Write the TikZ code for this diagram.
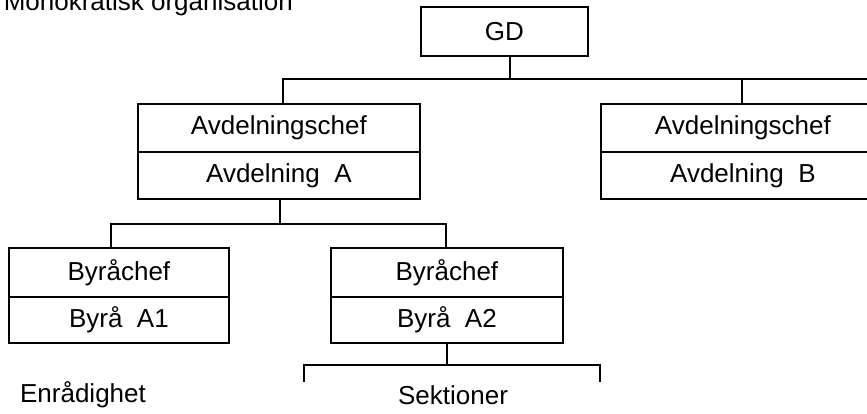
\documentclass[tikz,border=0pt]{standalone}
\usepackage{fontspec}
\setmainfont{Liberation Sans}
\begin{document}
\begin{tikzpicture}[x=1pt,y=-1pt,
  every node/.style={font=\fontsize{26}{31}\selectfont},
  cell/.style={draw, line width=1.8pt, inner sep=0pt, anchor=north west},
  wire/.style={line width=1.8pt},
  lbl/.style={inner sep=0pt}]
\useasboundingbox (0,0) rectangle (867,413);
\clip (0,0) rectangle (867,413);

% heading, cut by the top edge
\node[lbl, anchor=base east] (title) at (293,10) {Monokratisk organisation};

% GD
\node[cell, minimum width=167pt, minimum height=49pt] (gd) at (420,6) {GD};

% department A
\node[cell, minimum width=282pt, minimum height=48pt] (chefA) at (137,103) {Avdelningschef};
\node[cell, minimum width=282pt, minimum height=47pt] (avdA) at (137,151) {Avdelning\ \ A};

% department B
\node[cell, minimum width=284pt, minimum height=48pt] (chefB) at (600,103) {Avdelningschef};
\node[cell, minimum width=284pt, minimum height=47pt] (avdB) at (600,151) {Avdelning\ \ B};

% bureau A1
\node[cell, minimum width=220pt, minimum height=49pt] (chefA1) at (8,247) {Byråchef};
\node[cell, minimum width=220pt, minimum height=46pt] (byraA1) at (8,296) {Byrå\ \ A1};

% bureau A2
\node[cell, minimum width=232pt, minimum height=49pt] (chefA2) at (330,247) {Byråchef};
\node[cell, minimum width=232pt, minimum height=46pt] (byraA2) at (330,296) {Byrå\ \ A2};

% junction points
\coordinate (j0) at (510,79);
\coordinate (jA) at (283,79);
\coordinate (jB) at (742,79);
\coordinate (jR) at (867,79);
\coordinate (k0) at (280,224);
\coordinate (k1) at (111,224);
\coordinate (k2) at (446,224);
\coordinate (s0) at (447,365);
\coordinate (s1) at (304,365);
\coordinate (s2) at (600,365);
\coordinate (t1) at (304,382);
\coordinate (t2) at (600,382);

% GD to the departments
\draw[wire] (gd.south -| j0) -- (j0);
\draw[wire] (chefA.north -| jA) -- (jA) -- (jR);
\draw[wire] (jB) -- (chefB.north -| jB);

% department A to its bureaus
\draw[wire] (avdA.south -| k0) -- (k0);
\draw[wire] (chefA1.north -| k1) -- (k1) -- (k2) -- (chefA2.north -| k2);

% bureau A2 to its sections
\draw[wire] (byraA2.south -| s0) -- (s0);
\draw[wire] (t1) -- (s1) -- (s2) -- (t2);

% captions
\node[lbl] (enr) at (83,395) {Enrådighet};
\node[lbl] (sekt) at (453,395) {Sektioner};
\end{tikzpicture}
\end{document}
